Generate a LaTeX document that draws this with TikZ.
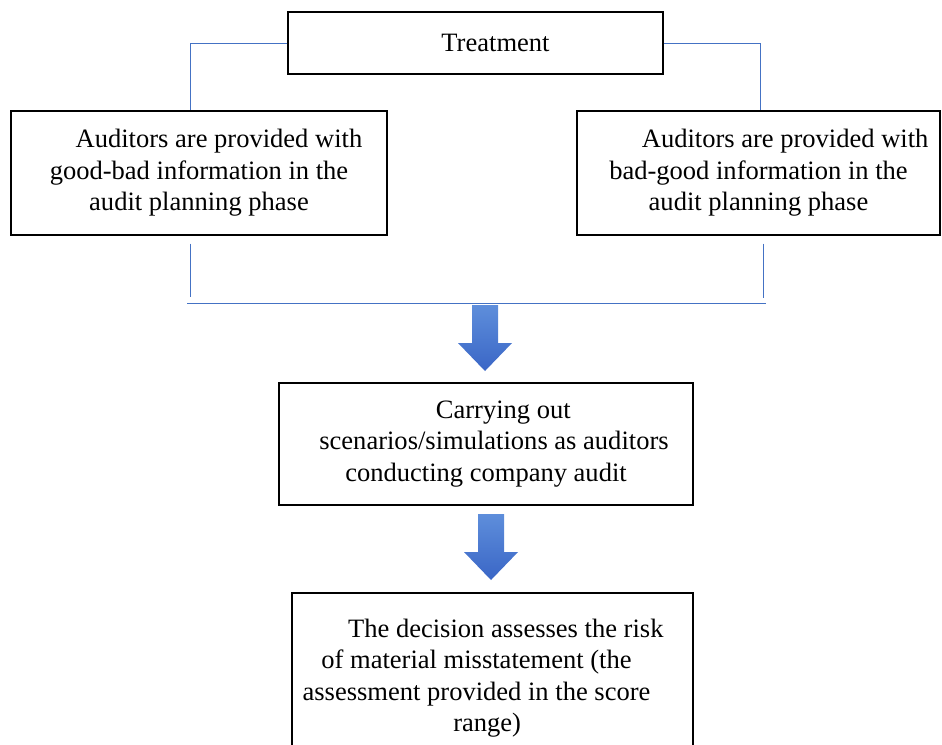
\documentclass[tikz,border=0pt]{standalone}
\usepackage{fontspec}
\setmainfont{Liberation Serif}
\usepackage{tikz}
\usepackage{xcolor}
\usetikzlibrary{calc}
\definecolor{linkblue}{HTML}{4472C4}
\definecolor{arrowtop}{HTML}{5E8EDB}
\definecolor{arrowbottom}{HTML}{3A66C6}
\tikzstyle{stagebox} = [
    draw=black,
    line width=1.1pt,
    rectangle,
    align=center,
    inner sep=0pt,
    font=\fontsize{19.9}{23.6}\selectfont
    ]
\tikzstyle{bracketline} = [
    draw=linkblue,
    line width=0.75pt
    ]
\tikzstyle{arrowfill} = [
    top color=arrowtop,
    bottom color=arrowbottom,
    draw=none
    ]
\newcommand{\blockarrow}[1]{% thick downward arrow from a top point
\shade[arrowfill] ($(#1)+(-13,0)$) -- ($(#1)+(13,0)$) -- ($(#1)+(13,38)$)
    -- ($(#1)+(27,38)$) -- ($(#1)+(0,66)$) -- ($(#1)+(-27,38)$)
    -- ($(#1)+(-13,38)$) -- cycle;}

\begin{document}
\begin{tikzpicture}[x=0.75pt,y=-0.75pt]
\useasboundingbox (0,0) rectangle (942,744);

\node [stagebox, minimum width=281.25pt, minimum height=46.5pt] (treat) at (475.5,43) {\hspace*{30pt}\raisebox{-2pt}{Treatment}};
\node [stagebox, minimum width=282pt, minimum height=93pt] (goodbad) at (199,173) {%
    \hspace*{30pt}Auditors are provided with\\
    good-bad information in the\\
    audit planning phase};
\node [stagebox, minimum width=272.25pt, minimum height=93pt] (badgood) at (758.5,173) {%
    \hspace*{40pt}Auditors are provided with\\
    bad-good information in the\\
    audit planning phase};
\node [stagebox, minimum width=310.5pt, minimum height=91.5pt] (carry) at (486,444) {%
    \hspace*{26pt}Carrying out\\
    \hspace*{12pt}scenarios/simulations as auditors\\
    conducting company audit};
\node [stagebox, minimum width=300.75pt, minimum height=127.5pt] (decide) at (492.5,678) {%
    \hspace*{40pt}The decision assesses the risk\hspace*{20pt}\mbox{}\\
    of material misstatement (the\hspace*{24pt}\mbox{}\\
    assessment provided in the score\hspace*{24pt}\mbox{}\\
    range)\hspace*{8pt}\mbox{}};

% links from the treatment to both groups
\draw [bracketline] (treat.west) -| ($(goodbad.north)+(-9,0)$);
\draw [bracketline] (treat.east) -| ($(badgood.north)+(2,0)$);

% groups joined below
\coordinate (joinleft) at (187,303);
\coordinate (joinright) at (766,303);
\draw [bracketline] ($(goodbad.south)+(-9,8)$) -- ($(goodbad.south)+(-9,61)$);
\draw [bracketline] ($(badgood.south)+(4.5,8)$) -- ($(badgood.south)+(4.5,62)$);
\draw [bracketline] (joinleft) -- (joinright);

\coordinate (arrowone) at (485,305);
\coordinate (arrowtwo) at (491,514);
\blockarrow{arrowone}
\blockarrow{arrowtwo}
\end{tikzpicture}
\end{document}
